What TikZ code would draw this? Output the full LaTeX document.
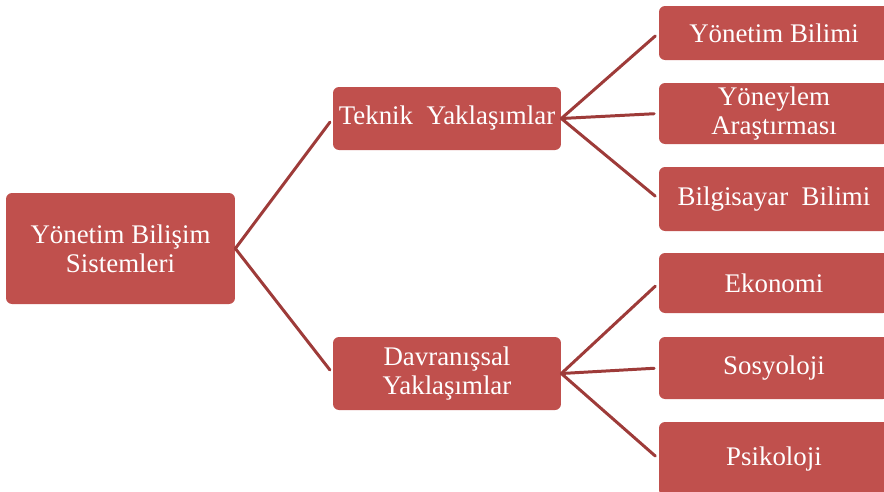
\documentclass[tikz,border=0pt]{standalone}
\usepackage{fontspec}
\setmainfont{Liberation Serif}
\usepackage{tikz}
\definecolor{boxred}{HTML}{C0504D}
\definecolor{linkred}{HTML}{9E3B39}
\tikzset{box/.style = {shape=rectangle, fill=boxred, rounded corners=0.12cm, inner sep=0pt,
                       text=white, align=center, font=\fontsize{15.3}{16.5}\selectfont}}
\tikzset{link/.style = {draw=linkred, line width=1.7pt, line cap=round, line join=round, shorten >=0.09cm}}

\begin{document}
\begin{tikzpicture}[x=0.02cm, y=-0.02cm]
                \clip (0,0) rectangle (884,491);

                \node[box, minimum width=4.58cm, minimum height=2.22cm] (YBS) at (120.5,248.5) {Yönetim Bilişim\\Sistemleri};
                \node[box, minimum width=4.56cm, minimum height=1.26cm] (TY) at (447,118.5) {Teknik \ Yaklaşımlar};
                \node[box, minimum width=4.56cm, minimum height=1.46cm] (DY) at (447,373.5) {Davranışsal\\Yaklaşımlar};

                \node[box, minimum width=4.6cm, minimum height=1.08cm] (YB) at (774,33) {Yönetim Bilimi};
                \node[box, minimum width=4.6cm, minimum height=1.22cm] (YA) at (774,113.5) {Yöneylem\\Araştırması};
                \node[box, minimum width=4.6cm, minimum height=1.28cm] (BB) at (774,199) {Bilgisayar \ Bilimi};
                \node[box, minimum width=4.6cm, minimum height=1.20cm] (EK) at (774,283) {Ekonomi};
                \node[box, minimum width=4.6cm, minimum height=1.24cm] (SO) at (774,368) {Sosyoloji};
                \node[box, minimum width=4.6cm, minimum height=1.48cm] (PS) at (774,459) {Psikoloji};

                \draw[link] (YBS.east) -- (TY.west);
                \draw[link] (YBS.east) -- (DY.west);

                \draw[link] (TY.east) -- (YB.west);
                \draw[link] (TY.east) -- (YA.west);
                \draw[link] (TY.east) -- (BB.west);

                \draw[link] (DY.east) -- (EK.west);
                \draw[link] (DY.east) -- (SO.west);
                \draw[link] (DY.east) -- (PS.west);
            \end{tikzpicture}
\end{document}
